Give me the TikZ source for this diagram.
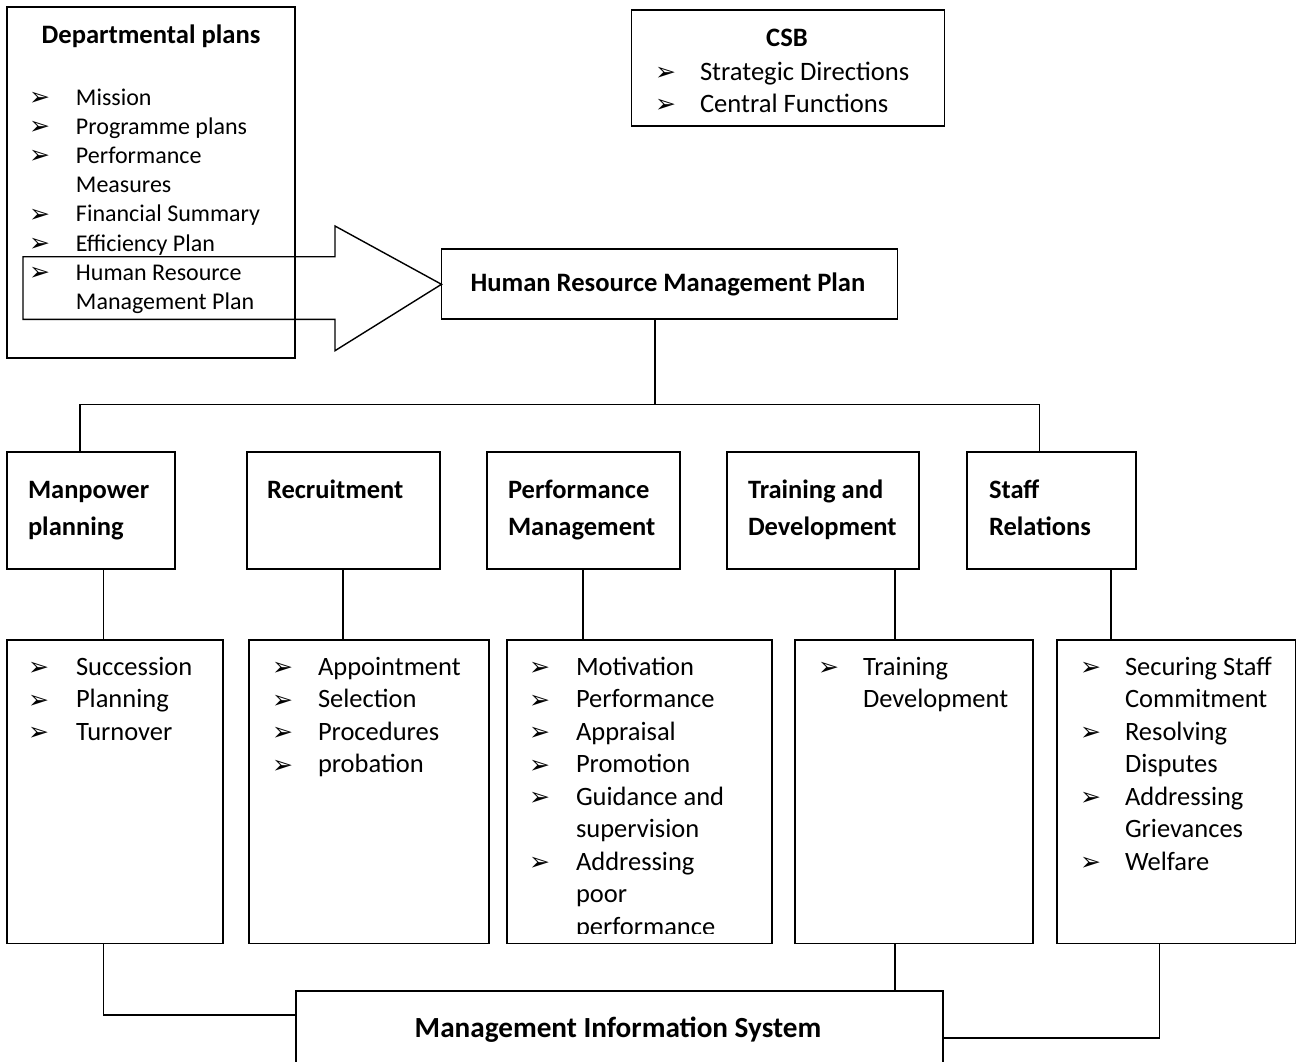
\documentclass[tikz,border=0pt]{standalone}
\usepackage{fontspec}
\setmainfont{Carlito}
\newfontfamily\bulletfont{DejaVu Sans}
\newcommand{\bl}{\raisebox{-0.5pt}{\bulletfont\fontsize{25}{25}\selectfont\char"27A2}}
\newcommand{\szA}{\fontsize{26.5}{32.5}\selectfont}
\newcommand{\szB}{\fontsize{24}{29.2}\selectfont}
\newcommand{\szC}{\fontsize{26.6}{32}\selectfont}
\newcommand{\szH}{\fontsize{26.5}{37}\selectfont\bfseries}
\begin{document}
\begin{tikzpicture}[x=1pt,y=-1pt,
  box/.style={draw, line width=1.7pt, inner sep=0pt, outer sep=0pt, anchor=north west},
  txt/.style={inner sep=0pt, outer sep=0pt, anchor=base west, align=left},
  ctxt/.style={inner sep=0pt, outer sep=0pt, anchor=base},
  link/.style={line width=1.7pt}]
\useasboundingbox (0,0) rectangle (1298,1061);
\clip (0,0) rectangle (1298,1061);

% Departmental plans
\node[box, minimum width=288pt, minimum height=351pt] (dep) at (7,7) {};
\node[ctxt, font=\szC\bfseries] (deph) at (151,43.5) {Departmental plans};
\node[txt] (depl) at (29,105) {\szB\begin{tabular}[t]{@{}p{47pt}@{}l@{}}
\bl & Mission\\
\bl & Programme plans\\
\bl & Performance\\
    & Measures\\
\bl & Financial Summary\\
\bl & Efficiency Plan\\
\bl & Human Resource\\
    & Management Plan
\end{tabular}};

% CSB
\node[box, minimum width=313pt, minimum height=116pt] (csb) at (631.5,10) {};
\node[ctxt, font=\szC\bfseries] (csbh) at (787,46.5) {CSB};
\node[txt] (csbl) at (655,80) {\szC\begin{tabular}[t]{@{}p{45pt}@{}l@{}}
\bl & Strategic Directions\\
\bl & Central Functions
\end{tabular}};

% HRMP
\node[box, minimum width=456pt, minimum height=70pt] (hrmp) at (441.5,249.3) {};
\node[ctxt, font=\szC\bfseries] (hrmpt) at (668,291) {Human Resource Management Plan};

% big arrow
\coordinate (tip) at (hrmp.west);
\draw[link, line width=1.4pt] (23,256.7) -- (335,256.7) -- (335,226) -- (tip)
  -- (335,350.7) -- (335,319.3) -- (23,319.3) -- cycle;

% top row
\node[box, minimum width=168pt, minimum height=117pt] (mp) at (7,452) {};
\node[box, minimum width=193pt, minimum height=117pt] (rc) at (247,452) {};
\node[box, minimum width=193pt, minimum height=117pt] (pm) at (487,452) {};
\node[box, minimum width=192pt, minimum height=117pt] (td) at (727,452) {};
\node[box, minimum width=169pt, minimum height=117pt] (sr) at (967,452) {};
\node[txt] (mpt) at (28,498) {\szH\begin{tabular}[t]{@{}l@{}}Manpower\\ planning\end{tabular}};
\node[txt] (rct) at (267,498) {\szH Recruitment};
\node[txt] (pmt) at (508,498) {\szH\begin{tabular}[t]{@{}l@{}}Performance\\ Management\end{tabular}};
\node[txt] (tdt) at (748,498) {\szH\begin{tabular}[t]{@{}l@{}}Training and\\ Development\end{tabular}};
\node[txt] (srt) at (989,498) {\szH\begin{tabular}[t]{@{}l@{}}Staff\\ Relations\end{tabular}};

% connectors HRMP -> top row
\coordinate (jn) at (655,404.5);
\coordinate (barL) at (80,404.5);
\coordinate (barR) at (1039.5,404.5);
\draw[link] (hrmp.south -| jn) -- (jn);
\draw[link] (mp.north -| barL) -- (barL) -- (barR) -- (sr.north -| barR);

% bottom row
\node[box, minimum width=216pt, minimum height=303.5pt] (b1) at (7,640) {};
\node[box, minimum width=240pt, minimum height=303.5pt] (b2) at (249.3,640) {};
\node[box, minimum width=264.5pt, minimum height=303.5pt] (b3) at (507.3,640) {};
\node[box, minimum width=238pt, minimum height=303.5pt] (b4) at (795,640) {};
\node[box, minimum width=238.5pt, minimum height=303.5pt] (b5) at (1057,640) {};

\node[txt] (b1l) at (28,675) {\szA\begin{tabular}[t]{@{}p{48pt}@{}l@{}}
\bl & Succession\\
\bl & Planning\\
\bl & Turnover
\end{tabular}};
\node[txt] (b2l) at (272,675) {\szA\begin{tabular}[t]{@{}p{46pt}@{}l@{}}
\bl & Appointment\\
\bl & Selection\\
\bl & Procedures\\
\bl & probation
\end{tabular}};
\begin{scope}
\clip (507,640) rectangle (772,933.5);
\node[txt] (b3l) at (529,675) {\szA\begin{tabular}[t]{@{}p{47pt}@{}l@{}}
\bl & Motivation\\
\bl & Performance\\
\bl & Appraisal\\
\bl & Promotion\\
\bl & Guidance and\\
    & supervision\\
\bl & Addressing\\
    & poor\\
    & performance
\end{tabular}};
\end{scope}
\node[txt] (b4l) at (818,675) {\szA\begin{tabular}[t]{@{}p{45pt}@{}l@{}}
\bl & Training\\
    & Development
\end{tabular}};
\node[txt] (b5l) at (1080,675) {\szA\begin{tabular}[t]{@{}p{45pt}@{}l@{}}
\bl & Securing Staff\\
    & Commitment\\
\bl & Resolving\\
    & Disputes\\
\bl & Addressing\\
    & Grievances\\
\bl & Welfare
\end{tabular}};

% top -> bottom connectors
\coordinate (c1) at (103.6,600);
\coordinate (c2) at (343,600);
\coordinate (c3) at (583,600);
\coordinate (c4) at (895,600);
\coordinate (c5) at (1111,600);
\draw[link] (mp.south -| c1) -- (b1.north -| c1);
\draw[link] (rc.south -| c2) -- (b2.north -| c2);
\draw[link] (pm.south -| c3) -- (b3.north -| c3);
\draw[link] (td.south -| c4) -- (b4.north -| c4);
\draw[link] (sr.south -| c5) -- (b5.north -| c5);

% MIS
\node[box, minimum width=647pt, minimum height=90pt] (mis) at (296,991) {};
\node[ctxt, font=\fontsize{29.2}{35}\selectfont\bfseries] (mist) at (618,1037) {Management Information System};

\coordinate (m1) at (103.6,1015);
\coordinate (m4) at (895,970);
\coordinate (m5) at (1159.5,1038);
\draw[link] (b1.south -| m1) -- (m1) -- (mis.west |- m1);
\draw[link] (b4.south -| m4) -- (mis.north -| m4);
\draw[link] (b5.south -| m5) -- (m5) -- (mis.east |- m5);
\end{tikzpicture}
\end{document}
